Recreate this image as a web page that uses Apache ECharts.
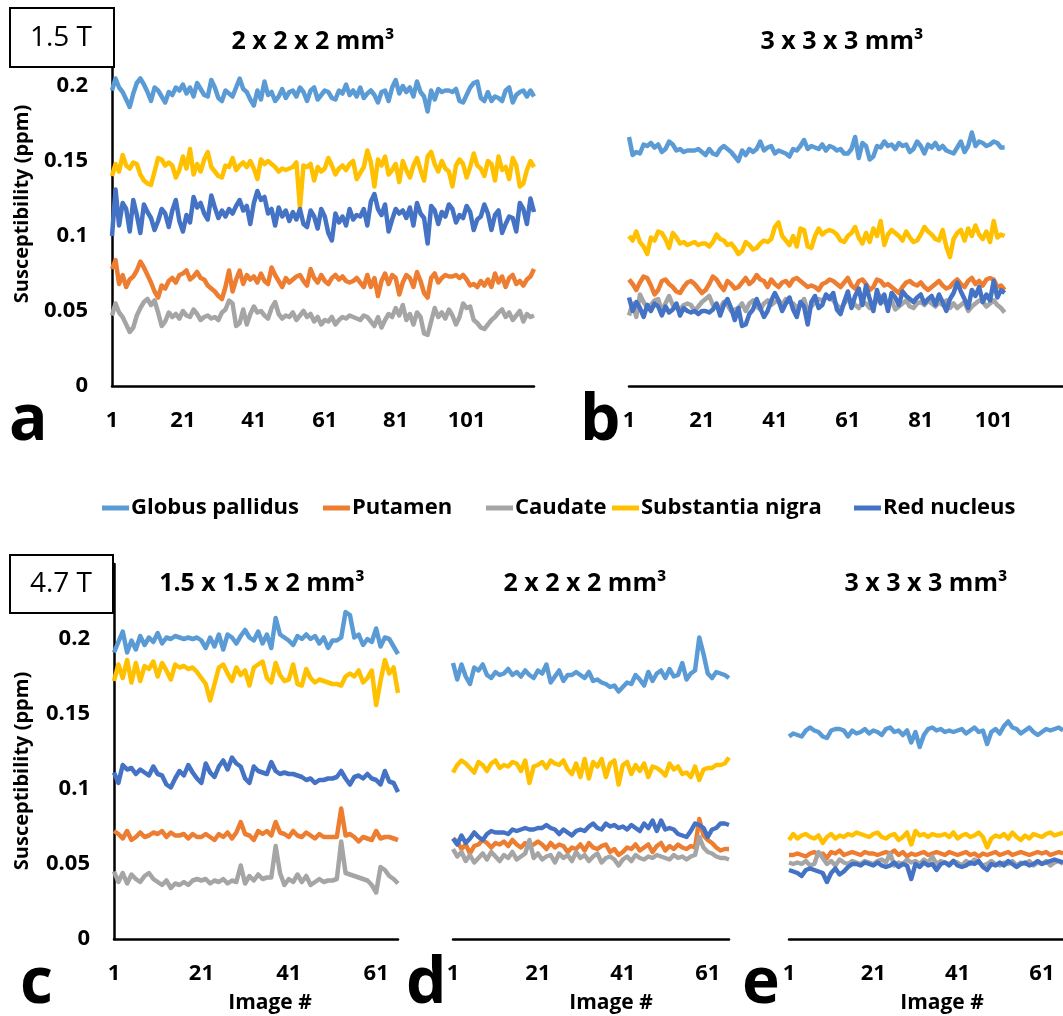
<!DOCTYPE html>
<html><head><meta charset="utf-8">
<script src="https://cdn.jsdelivr.net/npm/echarts@6/dist/echarts.min.js"></script>
<style>html,body{margin:0;padding:0;background:#fff}#c{width:1063px;height:1016px}</style>
</head><body><div id="c"></div>
<script>
const seriesNames = ['Globus pallidus','Putamen','Caudate','Substantia nigra','Red nucleus'];
const colors = ['#5B9BD5','#ED7D31','#A5A5A5','#FFC000','#4472C4'];
const panelTitles = ['2 x 2 x 2 mm\u00B3','3 x 3 x 3 mm\u00B3','1.5 x 1.5 x 2 mm\u00B3','2 x 2 x 2 mm\u00B3','3 x 3 x 3 mm\u00B3'];
const panelLetters = ['a','b','c','d','e'];
const yTicks = [0,0.05,0.1,0.15,0.2,0.25];

// Panel a (1.5 T, 2x2x2)
const gpA = [.197,.205,.199,.196,.191,.186,.195,.202,.205,.201,
.196,.190,.199,.197,.193,.189,.196,.194,.199,.197,
.201,.195,.199,.193,.202,.198,.194,.193,.204,.199,
.192,.190,.197,.195,.193,.199,.205,.198,.196,.191,
.187,.197,.191,.203,.194,.196,.190,.193,.198,.192,
.196,.197,.193,.199,.196,.190,.197,.199,.191,.194,
.197,.196,.192,.191,.197,.195,.201,.194,.197,.193,
.199,.192,.195,.197,.194,.189,.196,.197,.190,.199,
.204,.195,.200,.196,.199,.193,.203,.196,.193,.183,
.197,.191,.198,.196,.197,.197,.196,.198,.190,.189,
.194,.199,.202,.203,.192,.190,.196,.190,.193,.192,
.190,.197,.199,.189,.194,.196,.197,.193,.197,.193];
const putA = [.078,.084,.068,.074,.066,.071,.073,.077,.083,.079,
.074,.069,.063,.059,.067,.065,.070,.072,.069,.074,
.075,.077,.071,.073,.076,.072,.071,.067,.065,.063,
.060,.058,.066,.077,.063,.071,.077,.068,.074,.071,
.073,.069,.075,.070,.068,.079,.074,.070,.066,.072,
.069,.071,.073,.074,.070,.067,.078,.072,.069,.074,
.070,.068,.072,.074,.071,.073,.070,.069,.070,.072,
.069,.066,.074,.066,.072,.060,.070,.075,.068,.074,
.072,.061,.069,.074,.072,.066,.076,.070,.062,.059,
.072,.075,.069,.072,.074,.073,.073,.074,.072,.074,
.071,.067,.068,.066,.070,.067,.071,.066,.075,.069,
.073,.066,.072,.074,.068,.070,.067,.071,.073,.078];
const cauA = [.047,.055,.049,.046,.041,.036,.039,.047,.052,.056,
.058,.054,.057,.049,.040,.043,.049,.046,.048,.045,
.050,.047,.046,.051,.048,.044,.046,.047,.045,.046,
.044,.049,.051,.057,.055,.040,.042,.051,.041,.048,
.053,.049,.050,.047,.045,.052,.056,.048,.045,.047,
.046,.049,.044,.047,.050,.046,.048,.043,.046,.041,
.044,.043,.046,.041,.044,.046,.045,.047,.046,.045,
.044,.047,.046,.043,.040,.046,.039,.044,.048,.046,
.052,.047,.054,.044,.048,.041,.049,.046,.035,.034,
.043,.052,.046,.049,.045,.051,.047,.041,.046,.055,
.052,.053,.044,.042,.039,.038,.041,.044,.046,.049,
.051,.046,.049,.044,.047,.050,.043,.048,.046,.047];
const snA = [.140,.148,.143,.154,.147,.145,.149,.148,.141,.137,
.135,.134,.143,.152,.151,.147,.149,.147,.139,.144,
.153,.145,.158,.141,.148,.143,.151,.156,.146,.143,
.140,.139,.147,.146,.152,.144,.147,.149,.146,.150,
.145,.138,.151,.148,.150,.148,.146,.143,.145,.144,
.145,.146,.149,.119,.147,.146,.148,.137,.146,.143,
.145,.152,.147,.141,.145,.147,.144,.148,.150,.138,
.142,.146,.157,.149,.133,.151,.147,.153,.141,.144,
.148,.136,.150,.144,.139,.147,.152,.144,.137,.153,
.156,.148,.143,.150,.145,.143,.133,.147,.151,.148,
.139,.146,.155,.147,.145,.140,.150,.148,.137,.153,
.144,.146,.138,.152,.147,.133,.135,.144,.150,.146];
const rnA = [.100,.131,.107,.122,.118,.103,.124,.114,.102,.121,
.116,.112,.104,.110,.118,.115,.106,.117,.124,.110,
.103,.114,.109,.126,.119,.122,.115,.111,.127,.119,
.112,.117,.113,.118,.115,.120,.124,.117,.120,.108,
.122,.130,.124,.126,.115,.118,.107,.119,.113,.117,
.110,.116,.111,.118,.108,.106,.117,.113,.105,.118,
.113,.102,.097,.115,.109,.113,.107,.118,.111,.114,
.113,.118,.107,.123,.128,.118,.114,.121,.103,.111,
.118,.115,.117,.112,.119,.107,.122,.115,.112,.095,
.120,.117,.108,.116,.113,.121,.118,.109,.114,.112,
.120,.116,.104,.111,.113,.121,.115,.104,.114,.117,
.102,.108,.113,.112,.103,.122,.118,.108,.125,.116];

// Panel b (1.5 T, 3x3x3)
const gpB = [.166,.154,.156,.155,.161,.160,.162,.159,.161,.156,
.158,.163,.161,.157,.158,.156,.157,.157,.157,.158,
.156,.154,.158,.155,.154,.158,.160,.158,.156,.153,
.150,.157,.154,.158,.156,.158,.163,.157,.159,.160,
.155,.157,.156,.155,.153,.158,.157,.160,.164,.158,
.160,.159,.158,.161,.157,.160,.159,.157,.158,.155,
.155,.158,.166,.152,.162,.160,.151,.153,.160,.159,
.163,.160,.161,.158,.162,.160,.161,.156,.158,.163,
.160,.155,.161,.159,.162,.158,.160,.157,.156,.155,
.159,.163,.156,.160,.169,.160,.163,.162,.160,.161,
.163,.162,.159,.159];
const putB = [.071,.068,.064,.069,.073,.072,.067,.061,.064,.070,
.071,.068,.066,.063,.062,.066,.069,.070,.068,.065,
.062,.064,.068,.073,.071,.067,.064,.070,.068,.065,
.066,.069,.072,.068,.070,.074,.071,.070,.066,.071,
.068,.066,.069,.070,.067,.071,.072,.070,.068,.066,
.067,.066,.064,.068,.069,.071,.070,.068,.066,.069,
.072,.067,.065,.070,.071,.068,.064,.066,.071,.070,
.067,.068,.066,.064,.062,.066,.069,.070,.068,.067,
.069,.066,.064,.066,.068,.070,.067,.065,.066,.069,
.071,.068,.066,.070,.072,.068,.070,.067,.071,.072,
.071,.066,.067,.064];
const cauB = [.047,.055,.046,.061,.056,.052,.054,.057,.058,.050,
.055,.060,.054,.052,.051,.054,.055,.054,.050,.053,
.056,.058,.060,.054,.053,.052,.056,.054,.050,.051,
.052,.055,.050,.055,.057,.053,.051,.055,.057,.054,
.056,.057,.054,.058,.056,.055,.052,.054,.058,.050,
.053,.056,.058,.057,.059,.060,.057,.054,.051,.055,
.058,.057,.054,.052,.056,.055,.052,.054,.057,.060,
.056,.054,.057,.051,.053,.055,.057,.053,.052,.055,
.056,.054,.057,.055,.053,.056,.054,.057,.052,.055,
.052,.054,.056,.050,.053,.055,.057,.056,.053,.055,
.057,.054,.052,.049];
const snB = [.100,.097,.103,.096,.093,.088,.099,.097,.103,.102,
.098,.092,.102,.099,.095,.096,.094,.095,.096,.094,
.095,.095,.093,.096,.101,.098,.097,.094,.095,.092,
.088,.090,.096,.094,.091,.092,.095,.097,.096,.098,
.106,.109,.100,.097,.094,.100,.093,.105,.104,.093,
.092,.100,.105,.101,.103,.104,.103,.101,.097,.096,
.100,.102,.106,.099,.095,.102,.096,.105,.100,.110,
.094,.101,.104,.102,.100,.097,.103,.099,.096,.097,
.101,.106,.103,.101,.098,.097,.104,.093,.086,.098,
.102,.104,.097,.105,.100,.107,.101,.098,.103,.096,
.110,.099,.101,.100];
const rnB = [.059,.050,.056,.052,.046,.054,.050,.055,.053,.047,
.053,.049,.051,.055,.047,.052,.050,.049,.050,.048,
.050,.050,.049,.051,.055,.047,.054,.058,.052,.044,
.052,.040,.041,.048,.051,.058,.052,.046,.050,.057,
.062,.057,.050,.055,.059,.051,.046,.056,.053,.041,
.056,.060,.052,.054,.061,.058,.062,.051,.048,.056,
.063,.052,.060,.065,.054,.067,.058,.050,.064,.055,
.061,.050,.062,.059,.054,.063,.060,.058,.056,.059,
.061,.055,.058,.060,.054,.061,.056,.050,.058,.062,
.069,.063,.058,.052,.064,.060,.066,.056,.061,.057,
.070,.059,.064,.062];

// Panel c (4.7 T, 1.5x1.5x2)
const gpC = [.191,.198,.205,.191,.199,.193,.202,.196,.201,.198,
.204,.197,.201,.200,.202,.201,.200,.201,.200,.201,
.199,.194,.201,.195,.203,.193,.203,.201,.197,.202,
.206,.201,.199,.205,.197,.203,.194,.214,.203,.201,
.199,.196,.202,.200,.203,.200,.202,.197,.201,.194,
.199,.199,.201,.218,.216,.201,.203,.196,.200,.198,
.207,.195,.201,.200,.195,.190];
const putC = [.072,.070,.067,.072,.066,.068,.071,.068,.069,.071,
.070,.072,.068,.071,.069,.069,.070,.067,.070,.068,
.068,.070,.068,.066,.070,.068,.071,.067,.071,.078,
.070,.069,.066,.072,.070,.072,.069,.078,.071,.070,
.068,.072,.069,.068,.071,.069,.067,.070,.068,.068,
.068,.068,.087,.069,.070,.068,.065,.068,.067,.066,
.072,.067,.068,.068,.067,.066];
const cauC = [.045,.038,.044,.037,.043,.040,.038,.042,.044,.040,
.038,.036,.039,.034,.037,.036,.038,.036,.039,.040,
.039,.040,.037,.039,.038,.040,.037,.039,.038,.049,
.037,.042,.039,.043,.040,.041,.041,.062,.044,.036,
.040,.038,.043,.038,.042,.036,.038,.040,.038,.039,
.039,.040,.065,.044,.043,.042,.041,.040,.039,.036,
.031,.048,.046,.042,.040,.037];
const snC = [.172,.183,.174,.186,.171,.184,.172,.182,.180,.185,
.175,.184,.179,.173,.183,.181,.182,.180,.181,.178,
.174,.170,.159,.170,.181,.183,.177,.172,.181,.176,
.179,.169,.181,.183,.185,.174,.171,.184,.176,.172,
.173,.183,.170,.169,.180,.174,.171,.173,.172,.171,
.170,.170,.169,.175,.177,.175,.179,.171,.174,.179,
.156,.172,.186,.177,.181,.164];
const rnC = [.111,.104,.116,.113,.114,.110,.113,.111,.109,.115,
.110,.109,.103,.101,.107,.112,.109,.116,.111,.107,
.104,.117,.111,.108,.115,.119,.113,.121,.117,.115,
.107,.104,.115,.112,.111,.110,.118,.112,.110,.111,
.110,.110,.109,.108,.106,.107,.104,.106,.106,.107,
.107,.108,.112,.107,.103,.108,.109,.107,.110,.107,
.106,.103,.112,.105,.104,.098];

// Panel d (4.7 T, 2x2x2)
const gpD = [.184,.173,.183,.175,.170,.181,.179,.183,.176,.174,
.178,.176,.177,.180,.176,.178,.175,.179,.176,.174,
.179,.177,.183,.171,.175,.179,.172,.176,.176,.178,
.176,.174,.178,.172,.173,.171,.170,.168,.169,.165,
.168,.171,.170,.176,.173,.169,.178,.172,.177,.179,
.174,.180,.175,.176,.184,.173,.177,.179,.201,.190,
.177,.174,.178,.177,.176,.174];
const putD = [.067,.065,.060,.063,.057,.062,.063,.066,.064,.061,
.064,.063,.065,.062,.066,.063,.061,.064,.062,.063,
.065,.063,.060,.064,.061,.063,.062,.058,.061,.060,
.063,.059,.064,.061,.060,.062,.063,.058,.060,.056,
.058,.061,.060,.063,.059,.061,.063,.058,.062,.064,
.059,.062,.060,.063,.061,.060,.062,.061,.080,.069,
.066,.064,.061,.059,.060,.060];
const cauD = [.060,.055,.058,.052,.056,.051,.054,.057,.053,.058,
.055,.052,.056,.054,.058,.053,.055,.057,.066,.054,
.057,.053,.055,.056,.051,.057,.054,.056,.052,.058,
.054,.056,.052,.055,.057,.051,.054,.055,.053,.049,
.053,.055,.052,.056,.054,.053,.055,.054,.056,.055,
.054,.053,.056,.054,.055,.053,.055,.056,.068,.061,
.058,.057,.055,.054,.054,.053];
const snD = [.111,.116,.119,.117,.114,.111,.118,.116,.112,.117,
.119,.114,.116,.115,.118,.117,.112,.119,.104,.115,
.116,.118,.114,.119,.117,.116,.119,.113,.110,.117,
.108,.120,.107,.118,.115,.120,.108,.117,.119,.103,
.116,.118,.110,.116,.112,.117,.108,.115,.114,.112,
.109,.117,.113,.115,.110,.111,.108,.115,.106,.113,
.114,.114,.116,.116,.117,.121];
const rnD = [.067,.063,.069,.064,.067,.071,.068,.066,.070,.072,
.071,.071,.071,.070,.073,.072,.073,.074,.073,.073,
.074,.074,.076,.074,.073,.070,.073,.071,.069,.072,
.073,.072,.075,.077,.074,.073,.077,.075,.076,.074,
.075,.073,.076,.074,.072,.077,.074,.079,.072,.079,
.073,.074,.073,.070,.069,.068,.072,.077,.076,.074,
.068,.073,.074,.077,.077,.076];

// Panel e (4.7 T, 3x3x3)
const gpE = [.135,.137,.136,.135,.139,.141,.139,.138,.135,.134,
.139,.140,.140,.139,.135,.139,.137,.138,.140,.137,
.139,.138,.136,.140,.141,.138,.139,.136,.139,.131,
.138,.128,.136,.140,.141,.139,.140,.138,.139,.138,
.139,.140,.137,.139,.141,.138,.139,.130,.138,.140,
.137,.142,.145,.141,.140,.137,.139,.141,.138,.136,
.138,.140,.139,.140,.141,.139];
const putE = [.056,.056,.057,.056,.055,.057,.058,.056,.057,.054,
.058,.057,.059,.056,.057,.058,.057,.056,.058,.057,
.057,.056,.057,.058,.057,.059,.056,.058,.055,.057,
.056,.057,.058,.056,.057,.058,.057,.056,.058,.057,
.056,.057,.058,.056,.057,.055,.057,.056,.057,.058,
.056,.057,.058,.056,.057,.058,.057,.056,.057,.058,
.057,.058,.056,.057,.058,.057];
const cauE = [.051,.050,.051,.050,.052,.049,.050,.058,.054,.050,
.052,.049,.053,.051,.050,.052,.051,.050,.052,.051,
.050,.052,.053,.051,.057,.049,.051,.050,.053,.051,
.052,.050,.053,.051,.055,.050,.052,.051,.050,.052,
.051,.049,.052,.050,.053,.051,.049,.050,.052,.050,
.049,.051,.050,.052,.049,.051,.050,.052,.049,.051,
.050,.052,.049,.051,.052,.050];
const snE = [.066,.070,.067,.069,.070,.068,.067,.069,.064,.068,
.070,.067,.069,.068,.070,.069,.071,.070,.069,.068,
.070,.071,.068,.067,.069,.070,.066,.068,.071,.063,
.072,.069,.070,.068,.070,.069,.069,.070,.068,.071,
.067,.069,.070,.068,.069,.071,.068,.061,.067,.069,
.068,.070,.067,.071,.068,.066,.069,.067,.070,.069,
.068,.070,.071,.069,.070,.071];
const rnE = [.046,.045,.044,.042,.046,.047,.046,.045,.044,.038,
.044,.047,.043,.045,.048,.050,.050,.049,.051,.050,
.049,.051,.049,.048,.049,.051,.048,.050,.049,.040,
.050,.048,.051,.049,.050,.046,.050,.051,.049,.052,
.049,.048,.049,.051,.050,.052,.048,.046,.050,.049,
.051,.049,.052,.050,.048,.050,.051,.049,.050,.052,
.050,.051,.052,.053,.052,.051];

const catCounts = [120,120,66,66,66];
const panelData = [
  [gpA,putA,cauA,snA,rnA],
  [gpB,putB,cauB,snB,rnB],
  [gpC,putC,cauC,snC,rnC],
  [gpD,putD,cauD,snD,rnD],
  [gpE,putE,cauE,snE,rnE]
];

const FONT = "'Open Sans', sans-serif";
const grids = [
  {left:112, top:11,  width:422, height:375},
  {left:629, top:11,  width:465, height:375},
  {left:114, top:564, width:284, height:375},
  {left:453, top:564, width:276, height:375},
  {left:789, top:564, width:276, height:375}
];

const xAxes = [], yAxes = [], series = [];
grids.forEach((g, i) => {
  const cats = [];
  for (let k = 1; k <= catCounts[i]; k++) cats.push(String(k));
  xAxes.push({
    type:'category', gridIndex:i, data:cats, boundaryGap:false,
    axisLine:{show:true, lineStyle:{color:'#000', width:2.5}},
    axisTick:{show:false},
    axisLabel:{interval:19, color:'#000', fontFamily:FONT, fontWeight:'bold', fontSize:22, margin:24},
    splitLine:{show:false}
  });
  const showY = (i === 0 || i === 2);
  yAxes.push({
    type:'value', gridIndex:i, min:0, max:0.25, interval:0.05,
    axisLine:{show:showY, lineStyle:{color:'#000', width:2.5}},
    axisTick:{show:false},
    axisLabel:{show:showY, color:'#000', fontFamily:FONT, fontWeight:'bold', fontSize:22, margin:24,
      formatter: v => (Math.abs(v - yTicks[5]) < 1e-9 ? '' : String(Math.round(v*100)/100))},
    splitLine:{show:false}
  });
  panelData[i].forEach((arr, s) => {
    series.push({
      name:seriesNames[s], type:'line', xAxisIndex:i, yAxisIndex:i, data:arr,
      showSymbol:false, symbol:'none', lineStyle:{color:colors[s], width:4.5, join:'round'}, itemStyle:{color:colors[s]},
      animation:false
    });
  });
});

const legendLefts = [97, 318, 481, 607, 849];
const legends = seriesNames.map((n, s) => ({
  data:[n], left:legendLefts[s], top:492, icon:'rect', itemWidth:27, itemHeight:5, itemGap:0,
  textStyle:{color:'#000', fontFamily:FONT, fontWeight:'bold', fontSize:22, padding:[0,0,0,-3]}
}));

function txt(x, y, text, size, weight, align, vAlign, rot) {
  return {type:'text', x:x, y:y, rotation:rot||0, z:100,
    style:{text:text, fill:'#000', font:(weight||'bold')+' '+size+'px '+FONT,
      textAlign:align||'center', textVerticalAlign:vAlign||'middle'}};
}

const graphics = [
  {type:'rect', z:99, shape:{x:10, y:8, width:104, height:59}, style:{fill:'#fff', stroke:'#000', lineWidth:2}},
  txt(61, 38, '1.5 T', 28, 'normal'),
  {type:'rect', z:99, shape:{x:10, y:555, width:103, height:58}, style:{fill:'#fff', stroke:'#000', lineWidth:2}},
  txt(61, 584, '4.7 T', 28, 'normal'),
  txt(313, 42, panelTitles[0], 25),
  txt(842, 42, panelTitles[1], 25),
  txt(262, 584, panelTitles[2], 25),
  txt(585, 584, panelTitles[3], 25),
  txt(926, 584, panelTitles[4], 25),
  txt(22, 204, 'Susceptibility (ppm)', 20, 'bold', 'center', 'middle', Math.PI/2),
  txt(22, 771, 'Susceptibility (ppm)', 20, 'bold', 'center', 'middle', Math.PI/2),
  txt(270, 1003, 'Image #', 21),
  txt(611, 1003, 'Image #', 21),
  txt(942, 1003, 'Image #', 21),
  txt(9, 422, panelLetters[0], 64, 'bold', 'left'),
  txt(580, 422, panelLetters[1], 64, 'bold', 'left'),
  txt(20, 985, panelLetters[2], 64, 'bold', 'left'),
  txt(406, 985, panelLetters[3], 64, 'bold', 'left'),
  txt(742, 985, panelLetters[4], 64, 'bold', 'left')
];

const chart = echarts.init(document.getElementById('c'), null, {renderer:'canvas'});
chart.setOption({
  animation:false,
  backgroundColor:'#fff',
  grid:grids,
  xAxis:xAxes,
  yAxis:yAxes,
  legend:legends,
  series:series,
  graphic:graphics
});
</script></body></html>
